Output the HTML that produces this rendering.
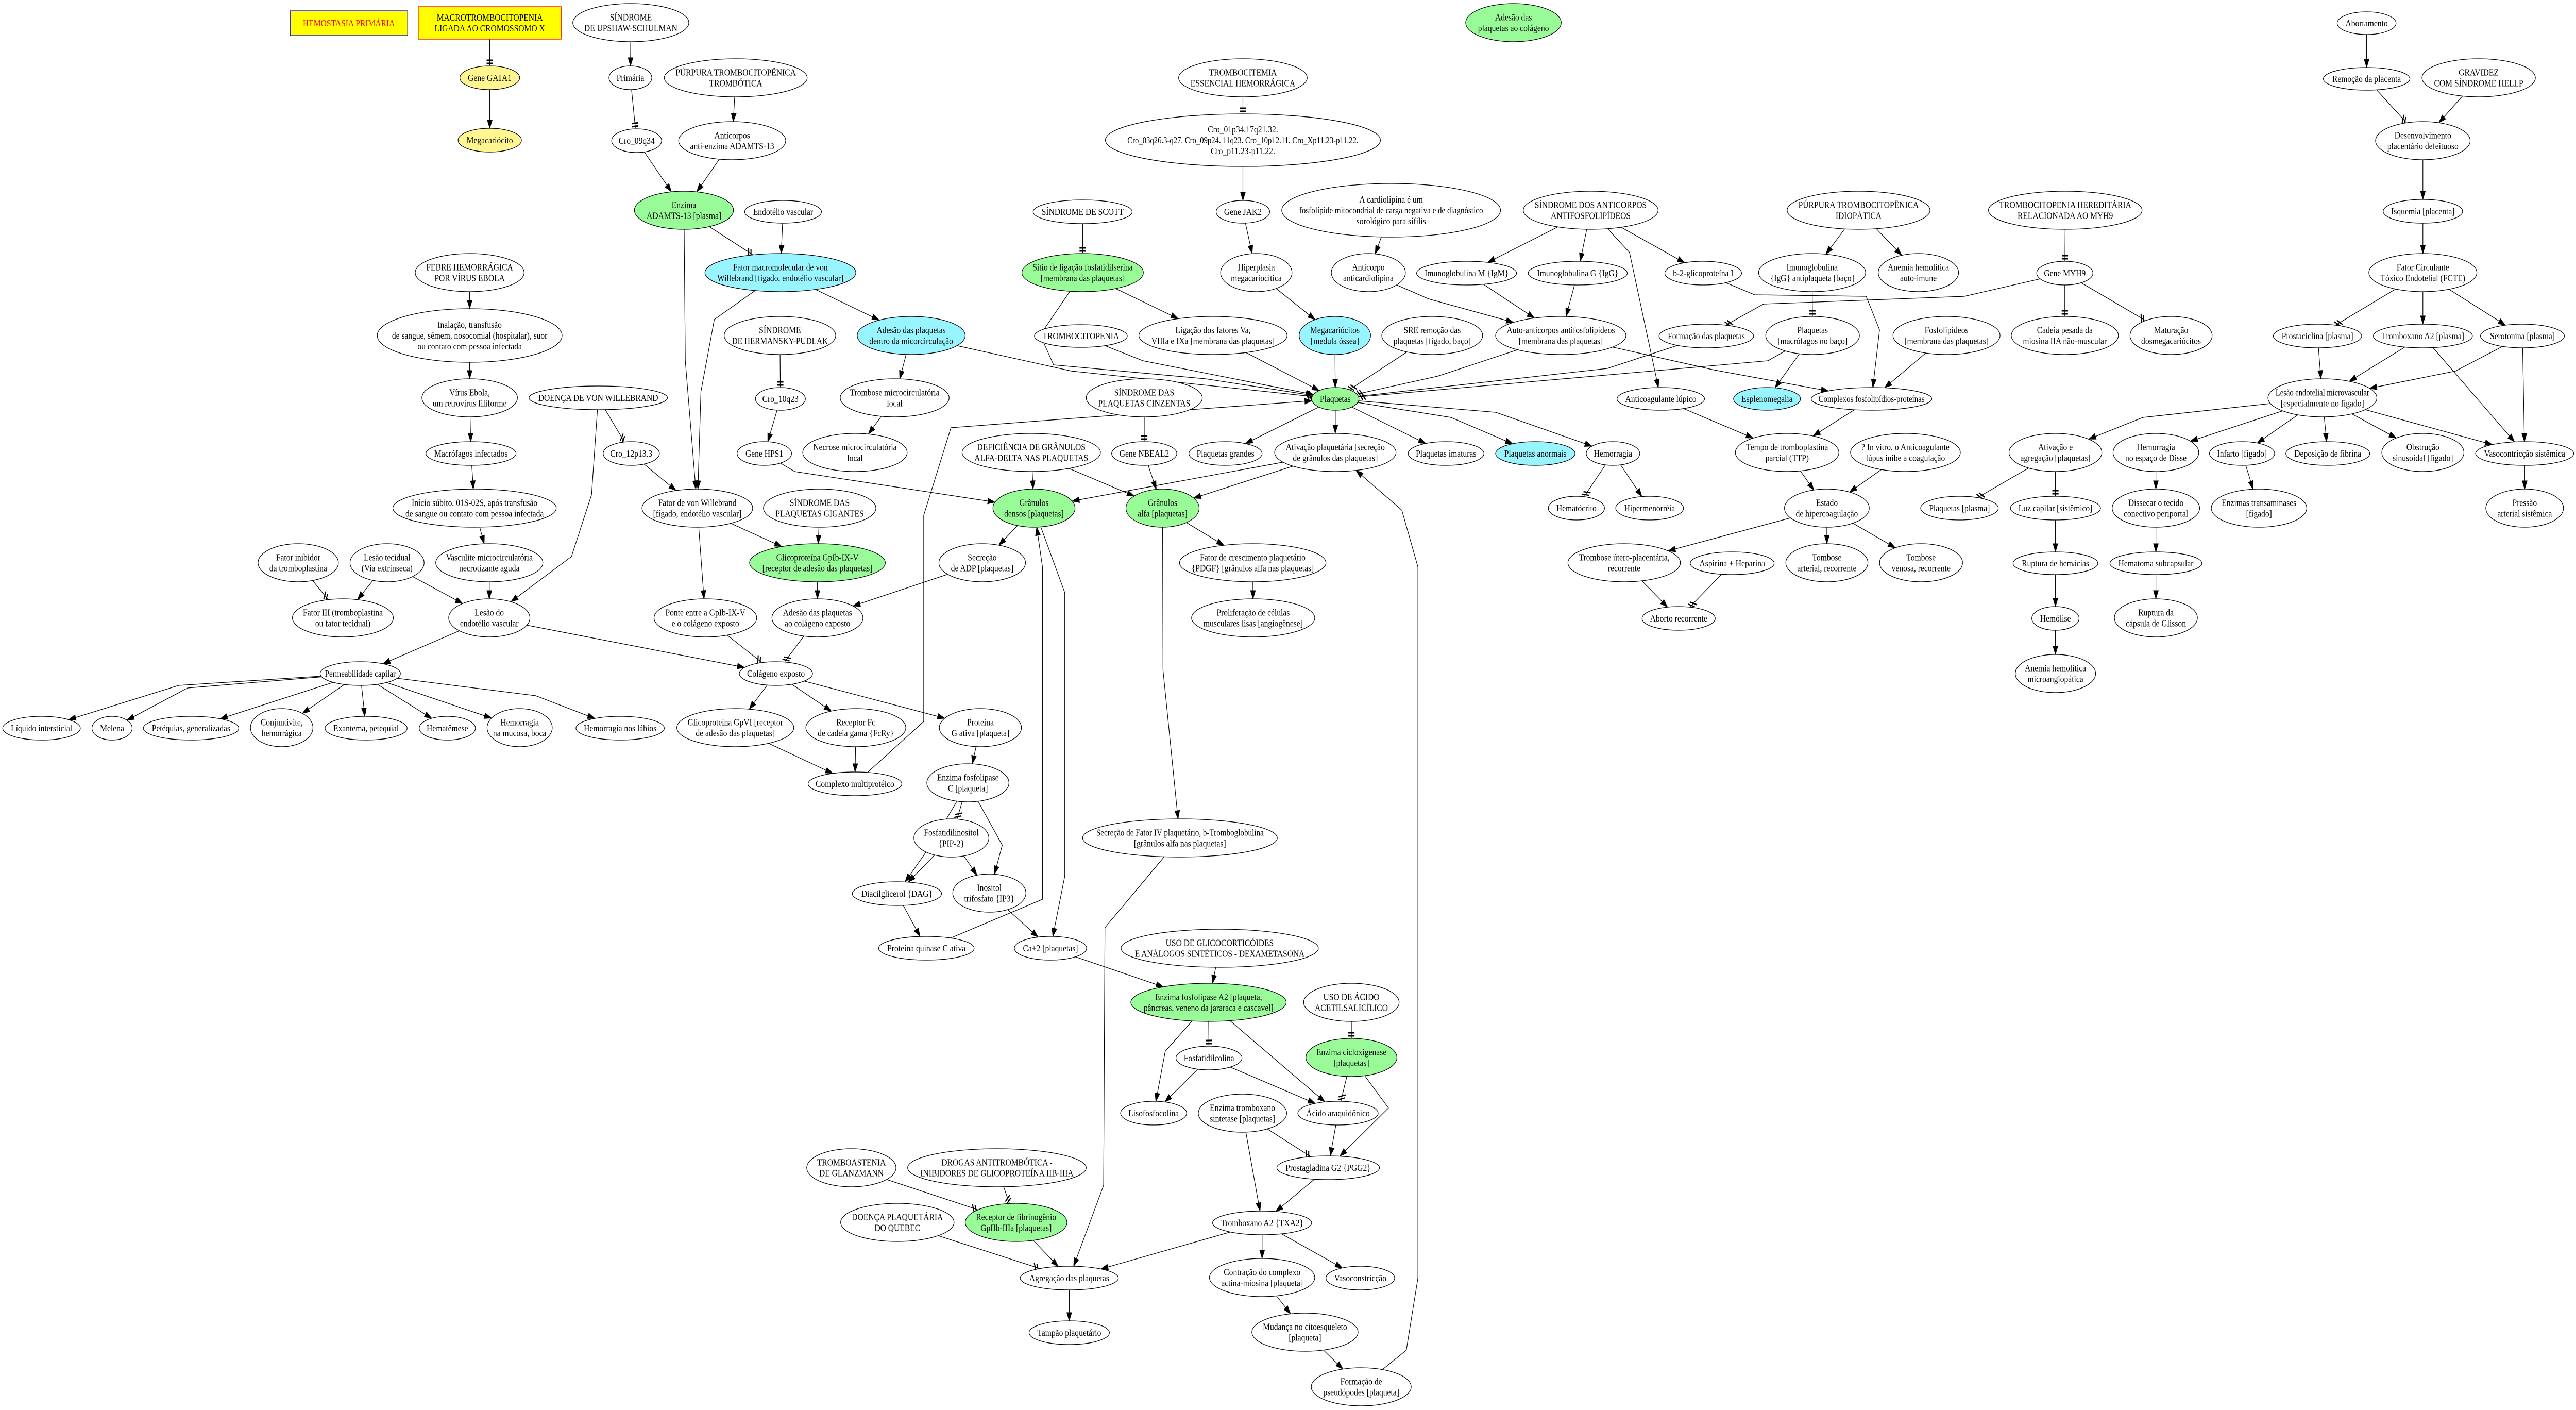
<!DOCTYPE html>
<html><head><meta charset="utf-8">
<style>
html,body{margin:0;padding:0;background:#fff;overflow:hidden;width:100%;height:100%;}
svg{display:block;width:100vw;height:100vh;}
ellipse,rect{fill:#fff;stroke:#000;stroke-width:1.3;}
.g ellipse{fill:#98fb98;}
.c ellipse{fill:#98f5ff;}
.y ellipse{fill:#fff68f;}
text{font-family:"Liberation Serif","DejaVu Serif",serif;font-size:18px;text-anchor:middle;fill:#000;}
.e{fill:none;stroke:#000;stroke-width:1.3;}
.m{fill:#000;stroke:#000;stroke-width:1;}
.t{stroke:#000;stroke-width:3;fill:none;}
.sl{stroke:#000;stroke-width:2.4;fill:none;}
</style></head><body>
<svg id="s" xmlns="http://www.w3.org/2000/svg" viewBox="0 0 5770 2736" preserveAspectRatio="none">
<rect x="0" y="0" width="5770" height="2736" style="fill:#fff;stroke:none"/>
<g id="edges"></g>
<g class="n" id="b1"><rect x="650" y="21" width="263" height="48" style="fill:#ffff00;stroke:#0000ff"/><text style="fill:#ff0000">HEMOSTASIA PRIMÁRIA</text></g>
<g class="n" id="b2"><rect x="937" y="13" width="320" height="63" style="fill:#ffff00;stroke:#ff0000"/><text>MACROTROMBOCITOPENIA</text><text>LIGADA AO CROMOSSOMO X</text></g>
<g class="n" id="ups"><ellipse cx="1413" cy="44" rx="130" ry="37"/><text>SÍNDROME</text><text>DE UPSHAW-SCHULMAN</text></g>
<g class="n y" id="gata"><ellipse cx="1097" cy="151" rx="67" ry="23"/><text>Gene GATA1</text></g>
<g class="n y" id="mega"><ellipse cx="1097" cy="272" rx="71" ry="23"/><text>Megacariócito</text></g>
<g class="n" id="prim"><ellipse cx="1412" cy="151" rx="48" ry="23"/><text>Primária</text></g>
<g class="n" id="c09"><ellipse cx="1426" cy="273" rx="56" ry="23"/><text>Cro_09q34</text></g>
<g class="n" id="febre"><ellipse cx="1052" cy="529" rx="122" ry="37"/><text>FEBRE HEMORRÁGICA</text><text>POR VÍRUS EBOLA</text></g>
<g class="n" id="inal"><ellipse cx="1052" cy="651" rx="207" ry="52"/><text>Inalação, transfusão</text><text>de sangue, sêmem, nosocomial (hospitalar), suor</text><text>ou contato com pessoa infectada</text></g>
<g class="n" id="virus"><ellipse cx="1052" cy="772" rx="107" ry="37"/><text>Vírus Ebola,</text><text>um retrovírus filiforme</text></g>
<g class="n" id="dvw"><ellipse cx="1340" cy="772" rx="155" ry="23"/><text>DOENÇA DE VON WILLEBRAND</text></g>
<g class="n" id="macr"><ellipse cx="1055" cy="880" rx="101" ry="23"/><text>Macrófagos infectados</text></g>
<g class="n" id="c12"><ellipse cx="1414" cy="880" rx="63" ry="23"/><text>Cro_12p13.3</text></g>
<g class="n" id="ptt"><ellipse cx="1648" cy="151" rx="160" ry="37"/><text>PÚRPURA TROMBOCITOPÊNICA</text><text>TROMBÓTICA</text></g>
<g class="n" id="antiad"><ellipse cx="1640" cy="273" rx="120" ry="37"/><text>Anticorpos</text><text>anti-enzima ADAMTS-13</text></g>
<g class="n g" id="adam"><ellipse cx="1532" cy="408" rx="111" ry="37"/><text>Enzima</text><text>ADAMTS-13 [plasma]</text></g>
<g class="n" id="endo"><ellipse cx="1754" cy="411" rx="86" ry="22"/><text>Endotélio vascular</text></g>
<g class="n" id="tce"><ellipse cx="2784" cy="151" rx="144" ry="37"/><text>TROMBOCITEMIA</text><text>ESSENCIAL HEMORRÁGICA</text></g>
<g class="n" id="cro01"><ellipse cx="2784" cy="272" rx="308" ry="51"/><text>Cro_01p34.17q21.32.</text><text>Cro_03q26.3-q27. Cro_09p24. 11q23. Cro_10p12.11. Cro_Xp11.23-p11.22.</text><text>Cro_p11.23-p11.22.</text></g>
<g class="n" id="jak"><ellipse cx="2784" cy="411" rx="60" ry="22"/><text>Gene JAK2</text></g>
<g class="n" id="scott"><ellipse cx="2425" cy="411" rx="111" ry="23"/><text>SÍNDROME DE SCOTT</text></g>
<g class="n g" id="sitio"><ellipse cx="2425" cy="529" rx="136" ry="37"/><text>Sítio de ligação fosfatidilserina</text><text>[membrana das plaquetas]</text></g>
<g class="n" id="hiper"><ellipse cx="2814" cy="529" rx="80" ry="37"/><text>Hiperplasia</text><text>megacariocítica</text></g>
<g class="n c" id="fmvw"><ellipse cx="1748" cy="529" rx="169" ry="37"/><text>Fator macromolecular de von</text><text>Willebrand [fígado, endotélio vascular]</text></g>
<g class="n" id="herm"><ellipse cx="1747" cy="651" rx="125" ry="37"/><text>SÍNDROME</text><text>DE HERMANSKY-PUDLAK</text></g>
<g class="n c" id="admic"><ellipse cx="2041" cy="651" rx="121" ry="37"/><text>Adesão das plaquetas</text><text>dentro da micorcirculação</text></g>
<g class="n" id="trombp"><ellipse cx="2421" cy="652" rx="104" ry="22"/><text>TROMBOCITOPENIA</text></g>
<g class="n" id="lig"><ellipse cx="2717" cy="651" rx="166" ry="37"/><text>Ligação dos fatores Va,</text><text>VIIIa e IXa [membrana das plaquetas]</text></g>
<g class="n" id="c10"><ellipse cx="1748" cy="774" rx="56" ry="22"/><text>Cro_10q23</text></g>
<g class="n" id="trmic"><ellipse cx="2004" cy="772" rx="122" ry="37"/><text>Trombose microcirculatória</text><text>local</text></g>
<g class="n" id="cinz"><ellipse cx="2563" cy="772" rx="130" ry="37"/><text>SÍNDROME DAS</text><text>PLAQUETAS CINZENTAS</text></g>
<g class="n" id="hps"><ellipse cx="1712" cy="880" rx="61" ry="23"/><text>Gene HPS1</text></g>
<g class="n" id="necr"><ellipse cx="1915" cy="878" rx="117" ry="37"/><text>Necrose microcirculatória</text><text>local</text></g>
<g class="n" id="defi"><ellipse cx="2310" cy="878" rx="155" ry="37"/><text>DEFICIÊNCIA DE GRÂNULOS</text><text>ALFA-DELTA NAS PLAQUETAS</text></g>
<g class="n" id="nbe"><ellipse cx="2563" cy="880" rx="73" ry="23"/><text>Gene NBEAL2</text></g>
<g class="n" id="pgr"><ellipse cx="2745" cy="880" rx="82" ry="23"/><text>Plaquetas grandes</text></g>
<g class="n g" id="adcol"><ellipse cx="3390" cy="44" rx="107" ry="37"/><text>Adesão das</text><text>plaquetas ao colágeno</text></g>
<g class="n" id="card"><ellipse cx="3116" cy="408" rx="245" ry="52"/><text>A cardiolipina é um</text><text>fosfolípide mitocondrial de carga negativa e de diagnóstico</text><text>sorológico para sífilis</text></g>
<g class="n" id="saaf"><ellipse cx="3563" cy="408" rx="151" ry="37"/><text>SÍNDROME DOS ANTICORPOS</text><text>ANTIFOSFOLIPÍDEOS</text></g>
<g class="n" id="pti"><ellipse cx="4163" cy="408" rx="160" ry="37"/><text>PÚRPURA TROMBOCITOPÊNICA</text><text>IDIOPÁTICA</text></g>
<g class="n" id="acard"><ellipse cx="3065" cy="529" rx="83" ry="37"/><text>Anticorpo</text><text>anticardiolipina</text></g>
<g class="n" id="igm"><ellipse cx="3285" cy="530" rx="112" ry="23"/><text>Imunoglobulina M {IgM}</text></g>
<g class="n" id="igg"><ellipse cx="3534" cy="530" rx="111" ry="23"/><text>Imunoglobulina G {IgG}</text></g>
<g class="n" id="b2g"><ellipse cx="3815" cy="530" rx="86" ry="23"/><text>b-2-glicoproteína I</text></g>
<g class="n" id="igap"><ellipse cx="4059" cy="529" rx="120" ry="37"/><text>Imunoglobulina</text><text>{IgG} antiplaqueta [baço]</text></g>
<g class="n" id="anai"><ellipse cx="4297" cy="529" rx="90" ry="37"/><text>Anemia hemolítica</text><text>auto-imune</text></g>
<g class="n c" id="megm"><ellipse cx="2990" cy="651" rx="80" ry="37"/><text>Megacariócitos</text><text>[medula óssea]</text></g>
<g class="n" id="sre"><ellipse cx="3208" cy="651" rx="113" ry="37"/><text>SRE remoção das</text><text>plaquetas [fígado, baço]</text></g>
<g class="n" id="auto"><ellipse cx="3496" cy="651" rx="146" ry="37"/><text>Auto-anticorpos antifosfolipídeos</text><text>[membrana das plaquetas]</text></g>
<g class="n" id="form"><ellipse cx="3822" cy="652" rx="106" ry="23"/><text>Formação das plaquetas</text></g>
<g class="n" id="pmac"><ellipse cx="4060" cy="651" rx="105" ry="37"/><text>Plaquetas</text><text>[macrófagos no baço]</text></g>
<g class="n" id="fosf"><ellipse cx="4360" cy="651" rx="120" ry="37"/><text>Fosfolipídeos</text><text>[membrana das plaquetas]</text></g>
<g class="n g" id="plaq"><ellipse cx="2991" cy="774" rx="53" ry="22"/><text>Plaquetas</text></g>
<g class="n" id="alup"><ellipse cx="3720" cy="774" rx="98" ry="22"/><text>Anticoagulante lúpico</text></g>
<g class="n c" id="espl"><ellipse cx="3958" cy="774" rx="75" ry="22"/><text>Esplenomegalia</text></g>
<g class="n" id="comp"><ellipse cx="4192" cy="774" rx="135" ry="22"/><text>Complexos fosfolipídios-proteínas</text></g>
<g class="n" id="ativ"><ellipse cx="2991" cy="878" rx="136" ry="37"/><text>Ativação plaquetária [secreção</text><text>de grânulos das plaquetas]</text></g>
<g class="n" id="pimat"><ellipse cx="3239" cy="880" rx="85" ry="23"/><text>Plaquetas imaturas</text></g>
<g class="n c" id="panor"><ellipse cx="3439" cy="880" rx="89" ry="23"/><text>Plaquetas anormais</text></g>
<g class="n" id="hem"><ellipse cx="3613" cy="880" rx="60" ry="23"/><text>Hemorragia</text></g>
<g class="n" id="ttp"><ellipse cx="4003" cy="878" rx="116" ry="37"/><text>Tempo de tromboplastina</text><text>parcial (TTP)</text></g>
<g class="n" id="invit"><ellipse cx="4268" cy="878" rx="123" ry="37"/><text>? In vitro, o Anticoagulante</text><text>lúpus inibe a coagulação</text></g>
<g class="n" id="abort"><ellipse cx="5301" cy="45" rx="66" ry="22"/><text>Abortamento</text></g>
<g class="n" id="remo"><ellipse cx="5301" cy="153" rx="97" ry="22"/><text>Remoção da placenta</text></g>
<g class="n" id="grav"><ellipse cx="5552" cy="151" rx="127" ry="37"/><text>GRAVIDEZ</text><text>COM SÍNDROME HELLP</text></g>
<g class="n" id="desen"><ellipse cx="5427" cy="273" rx="106" ry="37"/><text>Desenvolvimento</text><text>placentário defeituoso</text></g>
<g class="n" id="isq"><ellipse cx="5427" cy="410" rx="89" ry="23"/><text>Isquemia [placenta]</text></g>
<g class="n" id="thmyh"><ellipse cx="4626" cy="408" rx="172" ry="37"/><text>TROMBOCITOPENIA HEREDITÁRIA</text><text>RELACIONADA AO MYH9</text></g>
<g class="n" id="fcte"><ellipse cx="5427" cy="529" rx="121" ry="37"/><text>Fator Circulante</text><text>Tóxico Endotelial (FCTE)</text></g>
<g class="n" id="myh9"><ellipse cx="4625" cy="530" rx="63" ry="23"/><text>Gene MYH9</text></g>
<g class="n" id="cad"><ellipse cx="4625" cy="651" rx="120" ry="37"/><text>Cadeia pesada da</text><text>miosina IIA não-muscular</text></g>
<g class="n" id="mat"><ellipse cx="4863" cy="651" rx="92" ry="37"/><text>Maturação</text><text>dosmegacariócitos</text></g>
<g class="n" id="prost"><ellipse cx="5191" cy="652" rx="99" ry="23"/><text>Prostaciclina [plasma]</text></g>
<g class="n" id="txp"><ellipse cx="5427" cy="652" rx="111" ry="23"/><text>Tromboxano A2 [plasma]</text></g>
<g class="n" id="sero"><ellipse cx="5650" cy="652" rx="94" ry="23"/><text>Serotonina [plasma]</text></g>
<g class="n" id="lesm"><ellipse cx="5202" cy="772" rx="122" ry="37"/><text>Lesão endotelial microvascular</text><text>[especialmente no fígado]</text></g>
<g class="n" id="atag"><ellipse cx="4604" cy="878" rx="104" ry="37"/><text>Ativação e</text><text>agregação [plaquetas]</text></g>
<g class="n" id="hdis"><ellipse cx="4829" cy="878" rx="96" ry="37"/><text>Hemorragia</text><text>no espaço de Disse</text></g>
<g class="n" id="inf"><ellipse cx="5022" cy="880" rx="73" ry="23"/><text>Infarto [fígado]</text></g>
<g class="n" id="dep"><ellipse cx="5214" cy="880" rx="94" ry="23"/><text>Deposição de fibrina</text></g>
<g class="n" id="obs"><ellipse cx="5427" cy="878" rx="92" ry="37"/><text>Obstrução</text><text>sinusoidal [fígado]</text></g>
<g class="n" id="vasos"><ellipse cx="5655" cy="880" rx="110" ry="23"/><text>Vasocontricção sistêmica</text></g>
<g class="n" id="inic"><ellipse cx="1063" cy="986" rx="183" ry="37"/><text>Início súbito, 01S-02S, após transfusão</text><text>de sangue ou contato com pessoa infectada</text></g>
<g class="n" id="finib"><ellipse cx="668" cy="1092" rx="90" ry="37"/><text>Fator inibidor</text><text>da tromboplastina</text></g>
<g class="n" id="lestec"><ellipse cx="867" cy="1092" rx="83" ry="37"/><text>Lesão tecidual</text><text>(Via extrínseca)</text></g>
<g class="n" id="vasc"><ellipse cx="1096" cy="1092" rx="120" ry="37"/><text>Vasculite microcirculatória</text><text>necrotizante aguda</text></g>
<g class="n" id="f3"><ellipse cx="768" cy="1199" rx="113" ry="37"/><text>Fator III (tromboplastina</text><text>ou fator tecidual)</text></g>
<g class="n" id="lesend"><ellipse cx="1096" cy="1199" rx="91" ry="37"/><text>Lesão do</text><text>endotélio vascular</text></g>
<g class="n" id="perm"><ellipse cx="807" cy="1307" rx="90" ry="23"/><text>Permeabilidade capilar</text></g>
<g class="n" id="liq"><ellipse cx="93" cy="1413" rx="87" ry="23"/><text>Líquido intersticial</text></g>
<g class="n" id="mel"><ellipse cx="251" cy="1413" rx="45" ry="23"/><text>Melena</text></g>
<g class="n" id="pet"><ellipse cx="428" cy="1413" rx="107" ry="23"/><text>Petéquias, generalizadas</text></g>
<g class="n" id="conj"><ellipse cx="631" cy="1412" rx="70" ry="37"/><text>Conjuntivite,</text><text>hemorrágica</text></g>
<g class="n" id="exan"><ellipse cx="820" cy="1413" rx="92" ry="23"/><text>Exantema, petequial</text></g>
<g class="n" id="hemat"><ellipse cx="1002" cy="1413" rx="63" ry="23"/><text>Hematêmese</text></g>
<g class="n" id="hmuc"><ellipse cx="1164" cy="1412" rx="73" ry="37"/><text>Hemorragia</text><text>na mucosa, boca</text></g>
<g class="n" id="hlab"><ellipse cx="1389" cy="1413" rx="99" ry="23"/><text>Hemorragia nos lábios</text></g>
<g class="n" id="fvw"><ellipse cx="1562" cy="986" rx="124" ry="37"/><text>Fator de von Willebrand</text><text>[fígado, endotélio vascular]</text></g>
<g class="n" id="gig"><ellipse cx="1836" cy="986" rx="126" ry="37"/><text>SÍNDROME DAS</text><text>PLAQUETAS GIGANTES</text></g>
<g class="n g" id="gden"><ellipse cx="2316" cy="986" rx="92" ry="37"/><text>Grânulos</text><text>densos [plaquetas]</text></g>
<g class="n g" id="galf"><ellipse cx="2604" cy="986" rx="82" ry="37"/><text>Grânulos</text><text>alfa [plaquetas]</text></g>
<g class="n g" id="gpib"><ellipse cx="1831" cy="1092" rx="152" ry="37"/><text>Glicoproteína GpIb-IX-V</text><text>[receptor de adesão das plaquetas]</text></g>
<g class="n" id="adp"><ellipse cx="2200" cy="1092" rx="97" ry="37"/><text>Secreção</text><text>de ADP [plaquetas]</text></g>
<g class="n" id="pdgf"><ellipse cx="2806" cy="1092" rx="164" ry="37"/><text>Fator de crescimento plaquetário</text><text>{PDGF} [grânulos alfa nas plaquetas]</text></g>
<g class="n" id="ponte"><ellipse cx="1580" cy="1199" rx="115" ry="37"/><text>Ponte entre a GpIb-IX-V</text><text>e o colágeno exposto</text></g>
<g class="n" id="adce"><ellipse cx="1831" cy="1199" rx="102" ry="37"/><text>Adesão das plaquetas</text><text>ao colágeno exposto</text></g>
<g class="n" id="prol"><ellipse cx="2807" cy="1199" rx="138" ry="37"/><text>Proliferação de células</text><text>musculares lisas [angiogênese]</text></g>
<g class="n" id="col"><ellipse cx="1738" cy="1307" rx="82" ry="23"/><text>Colágeno exposto</text></g>
<g class="n" id="gpvi"><ellipse cx="1647" cy="1412" rx="131" ry="37"/><text>Glicoproteína GpVI [receptor</text><text>de adesão das plaquetas]</text></g>
<g class="n" id="fc"><ellipse cx="1917" cy="1412" rx="112" ry="37"/><text>Receptor Fc</text><text>de cadeia gama {FcRy}</text></g>
<g class="n" id="protg"><ellipse cx="2196" cy="1412" rx="92" ry="37"/><text>Proteína</text><text>G ativa [plaqueta]</text></g>
<g class="n" id="cmul"><ellipse cx="1915" cy="1521" rx="105" ry="23"/><text>Complexo multiprotéico</text></g>
<g class="n" id="plc"><ellipse cx="2168" cy="1519" rx="92" ry="37"/><text>Enzima fosfolipase</text><text>C [plaqueta]</text></g>
<g class="n" id="pip"><ellipse cx="2131" cy="1626" rx="84" ry="37"/><text>Fosfatidilinositol</text><text>{PIP-2}</text></g>
<g class="n" id="fiv"><ellipse cx="2643" cy="1626" rx="218" ry="37"/><text>Secreção de Fator IV plaquetário, b-Tromboglobulina</text><text>[grânulos alfa nas plaquetas]</text></g>
<g class="n" id="dag"><ellipse cx="2009" cy="1734" rx="100" ry="23"/><text>Diacilglicerol {DAG}</text></g>
<g class="n" id="ip3"><ellipse cx="2216" cy="1733" rx="82" ry="37"/><text>Inositol</text><text>trifosfato {IP3}</text></g>
<g class="n" id="hcto"><ellipse cx="3531" cy="986" rx="63" ry="23"/><text>Hematócrito</text></g>
<g class="n" id="hiperm"><ellipse cx="3695" cy="986" rx="76" ry="23"/><text>Hipermenorréia</text></g>
<g class="n" id="estado"><ellipse cx="4092" cy="986" rx="95" ry="37"/><text>Estado</text><text>de hipercoagulação</text></g>
<g class="n" id="pplas"><ellipse cx="4389" cy="986" rx="87" ry="23"/><text>Plaquetas [plasma]</text></g>
<g class="n" id="utero"><ellipse cx="3638" cy="1092" rx="126" ry="37"/><text>Trombose útero-placentária,</text><text>recorrente</text></g>
<g class="n" id="asp"><ellipse cx="3880" cy="1093" rx="94" ry="22"/><text>Aspirina + Heparina</text></g>
<g class="n" id="tart"><ellipse cx="4092" cy="1092" rx="92" ry="37"/><text>Tombose</text><text>arterial, recorrente</text></g>
<g class="n" id="tven"><ellipse cx="4303" cy="1092" rx="93" ry="37"/><text>Tombose</text><text>venosa, recorrente</text></g>
<g class="n" id="abrec"><ellipse cx="3760" cy="1200" rx="82" ry="23"/><text>Aborto recorrente</text></g>
<g class="n" id="luz"><ellipse cx="4604" cy="986" rx="101" ry="23"/><text>Luz capilar [sistêmico]</text></g>
<g class="n" id="diss"><ellipse cx="4829" cy="986" rx="98" ry="37"/><text>Dissecar o tecido</text><text>conectivo periportal</text></g>
<g class="n" id="enz"><ellipse cx="5060" cy="986" rx="107" ry="37"/><text>Enzimas transaminases</text><text>[fígado]</text></g>
<g class="n" id="press"><ellipse cx="5655" cy="986" rx="87" ry="37"/><text>Pressão</text><text>arterial sistêmica</text></g>
<g class="n" id="rupt"><ellipse cx="4604" cy="1093" rx="95" ry="22"/><text>Ruptura de hemácias</text></g>
<g class="n" id="hemt"><ellipse cx="4829" cy="1093" rx="103" ry="22"/><text>Hematoma subcapsular</text></g>
<g class="n" id="hemol"><ellipse cx="4604" cy="1200" rx="53" ry="23"/><text>Hemólise</text></g>
<g class="n" id="glis"><ellipse cx="4829" cy="1199" rx="93" ry="37"/><text>Ruptura da</text><text>cápsula de Glisson</text></g>
<g class="n" id="anmic"><ellipse cx="4604" cy="1307" rx="90" ry="37"/><text>Anemia hemolítica</text><text>microangiopática</text></g>
<g class="n" id="pkc"><ellipse cx="2075" cy="1840" rx="107" ry="23"/><text>Proteína quinase C ativa</text></g>
<g class="n" id="ca"><ellipse cx="2353" cy="1840" rx="81" ry="23"/><text>Ca+2 [plaquetas]</text></g>
<g class="n" id="glico"><ellipse cx="2732" cy="1840" rx="221" ry="37"/><text>USO DE GLICOCORTICÓIDES</text><text>E ANÁLOGOS SINTÉTICOS - DEXAMETASONA</text></g>
<g class="n g" id="pla2"><ellipse cx="2707" cy="1945" rx="174" ry="37"/><text>Enzima fosfolipase A2 [plaqueta,</text><text>pâncreas, veneno da jararaca e cascavel]</text></g>
<g class="n" id="aas"><ellipse cx="3027" cy="1945" rx="107" ry="37"/><text>USO DE ÁCIDO</text><text>ACETILSALICÍLICO</text></g>
<g class="n" id="fcol"><ellipse cx="2708" cy="2053" rx="74" ry="23"/><text>Fosfatidilcolina</text></g>
<g class="n g" id="cox"><ellipse cx="3027" cy="2052" rx="102" ry="37"/><text>Enzima cicloxigenase</text><text>[plaquetas]</text></g>
<g class="n" id="liso"><ellipse cx="2584" cy="2160" rx="74" ry="23"/><text>Lisofosfocolina</text></g>
<g class="n" id="txs"><ellipse cx="2783" cy="2160" rx="99" ry="37"/><text>Enzima tromboxano</text><text>sintetase [plaquetas]</text></g>
<g class="n" id="aa"><ellipse cx="2997" cy="2160" rx="90" ry="23"/><text>Ácido araquidônico</text></g>
<g class="n" id="glanz"><ellipse cx="1907" cy="2266" rx="100" ry="37"/><text>TROMBOASTENIA</text><text>DE GLANZMANN</text></g>
<g class="n" id="drog"><ellipse cx="2233" cy="2266" rx="200" ry="37"/><text>DROGAS ANTITROMBÓTICA -</text><text>INIBIDORES DE GLICOPROTEÍNA IIB-IIIA</text></g>
<g class="n" id="pgg"><ellipse cx="2975" cy="2266" rx="115" ry="23"/><text>Prostagladina G2 {PGG2}</text></g>
<g class="n" id="queb"><ellipse cx="2010" cy="2372" rx="127" ry="37"/><text>DOENÇA PLAQUETÁRIA</text><text>DO QUEBEC</text></g>
<g class="n g" id="rfib"><ellipse cx="2276" cy="2372" rx="114" ry="37"/><text>Receptor de fibrinogênio</text><text>GpIIb-IIIa [plaquetas]</text></g>
<g class="n" id="txa2"><ellipse cx="2827" cy="2373" rx="111" ry="23"/><text>Tromboxano A2 {TXA2}</text></g>
<g class="n" id="agr"><ellipse cx="2395" cy="2480" rx="110" ry="23"/><text>Agregação das plaquetas</text></g>
<g class="n" id="contr"><ellipse cx="2827" cy="2479" rx="118" ry="37"/><text>Contração do complexo</text><text>actina-miosina [plaqueta]</text></g>
<g class="n" id="vcon"><ellipse cx="3047" cy="2480" rx="77" ry="23"/><text>Vasoconstricção</text></g>
<g class="n" id="tamp"><ellipse cx="2395" cy="2586" rx="90" ry="23"/><text>Tampão plaquetário</text></g>
<g class="n" id="mud"><ellipse cx="2923" cy="2585" rx="119" ry="37"/><text>Mudança no citoesqueleto</text><text>[plaqueta]</text></g>
<g class="n" id="pseu"><ellipse cx="3049" cy="2691" rx="112" ry="37"/><text>Formação de</text><text>pseudópodes [plaqueta]</text></g>
</svg>
<script>
(function(){
var NS="http://www.w3.org/2000/svg";
var S=document.getElementById('s');
var N={};
var gs=S.querySelectorAll('g.n');
for(var k=0;k<gs.length;k++){
 var g=gs[k];var e=g.querySelector('ellipse,rect');var o={};
 if(e.tagName.toLowerCase()==='rect'){var x=+e.getAttribute('x'),y=+e.getAttribute('y'),w=+e.getAttribute('width'),h=+e.getAttribute('height');o={cx:x+w/2,cy:y+h/2,rx:w/2,ry:h/2,rect:true};}
 else{o={cx:+e.getAttribute('cx'),cy:+e.getAttribute('cy'),rx:+e.getAttribute('rx'),ry:+e.getAttribute('ry'),rect:false};}
 N[g.id]=o;
 var ts=g.querySelectorAll('text');var n=ts.length;
 for(var i=0;i<n;i++){var t=ts[i];t.setAttribute('x',o.cx);t.setAttribute('y',o.cy+6+(i-(n-1)/2)*21);
  var L=t.getComputedTextLength();var mx=2*o.rx*(o.rect?0.94:(n==1?0.88:(n==2?0.86:0.84)));
  if(L>mx){t.setAttribute('textLength',mx);t.setAttribute('lengthAdjust','spacingAndGlyphs');}}
}
function bp(o,tx,ty){var dx=tx-o.cx,dy=ty-o.cy;if(dx==0&&dy==0)dy=1;var t;
 if(o.rect){t=Math.min(dx?o.rx/Math.abs(dx):1e9,dy?o.ry/Math.abs(dy):1e9);}else{t=1/Math.sqrt((dx/o.rx)*(dx/o.rx)+(dy/o.ry)*(dy/o.ry));}
 return [o.cx+dx*t,o.cy+dy*t];}
var E=document.getElementById('edges');
function el(tag,attrs){var x=document.createElementNS(NS,tag);for(var a in attrs)x.setAttribute(a,attrs[a]);E.appendChild(x);return x;}
function edge(f,t,m,w){var A=N[f],B=N[t];if(!A||!B)return;w=w||[];
 var first=w.length?w[0]:[B.cx,B.cy];var last=w.length?w[w.length-1]:[A.cx,A.cy];
 var s=bp(A,first[0],first[1]);var en=bp(B,last[0],last[1]);
 var pv=w.length?w[w.length-1]:s;var ux=en[0]-pv[0],uy=en[1]-pv[1];var l=Math.sqrt(ux*ux+uy*uy)||1;ux/=l;uy/=l;var nx=-uy,ny=ux;
 var cut=(m==='a')?16:1;var ee=[en[0]-ux*cut,en[1]-uy*cut];
 var d='M'+s[0].toFixed(1)+','+s[1].toFixed(1);
 for(var i=0;i<w.length;i++)d+=' L'+w[i][0]+','+w[i][1];
 d+=' L'+ee[0].toFixed(1)+','+ee[1].toFixed(1);
 el('path',{d:d,'class':'e'});
 if(m==='a'){var bx=en[0]-ux*16,by=en[1]-uy*16;
  el('polygon',{points:en[0]+','+en[1]+' '+(bx+nx*5.5)+','+(by+ny*5.5)+' '+(bx-nx*5.5)+','+(by-ny*5.5),'class':'m'});}
 else if(m==='b'){[5,11].forEach(function(k){var px=en[0]-ux*k,py=en[1]-uy*k;el('line',{x1:px+nx*7,y1:py+ny*7,x2:px-nx*7,y2:py-ny*7,'class':'t'});});}
 else if(m==='s'){[5,11].forEach(function(k){var px=en[0]-ux*k,py=en[1]-uy*k;el('line',{x1:px+nx*7+ux*4,y1:py+ny*7+uy*4,x2:px-nx*7-ux*4,y2:py-ny*7-uy*4,'class':'sl'});});}
}
var L=[
['b2','gata','b'],['gata','mega','a'],['ups','prim','a'],['prim','c09','b'],['c09','adam','a'],['ptt','antiad','a'],['antiad','adam','a'],
['adam','fmvw','s'],['endo','fmvw','a'],['adam','fvw','a',[[1535,700]]],['fmvw','fvw','a',[[1600,620],[1570,760]]],['fmvw','admic','a'],['admic','trmic','a'],['trmic','necr','a'],
['admic','plaq','s',[[2400,720]]],['herm','c10','b'],['c10','hps','a'],['hps','gden','a',[[1780,915]]],['scott','sitio','b'],['sitio','lig','a'],
['sitio','plaq','s',[[2330,650],[2360,708],[2700,735]]],['trombp','plaq','a',[[2560,700]]],['lig','plaq','a'],['tce','cro01','b'],['cro01','jak','a'],['jak','hiper','a'],['hiper','megm','a'],
['megm','plaq','a'],['sre','plaq','s'],['card','acard','a'],['saaf','igm','a'],['saaf','igg','a'],['saaf','b2g','a'],['saaf','alup','a',[[3650,490]]],
['igm','auto','a'],['igg','auto','a'],['acard','auto','a',[[3200,580]]],['auto','plaq','s',[[3220,730]]],['auto','comp','a',[[3840,718]]],['b2g','comp','a',[[3930,572],[4180,575],[4210,640]]],
['pti','igap','a'],['pti','anai','a'],['igap','pmac','b'],['pmac','espl','a'],['pmac','plaq','s',[[3960,700],[3700,720]]],['thmyh','myh9','b'],
['myh9','form','s',[[4400,575],[3950,590]]],['form','plaq','s',[[3600,715]]],['myh9','cad','b'],['myh9','mat','s'],['fosf','comp','a'],['alup','ttp','a'],['comp','ttp','a'],
['ttp','estado','a'],['invit','estado','a'],['estado','utero','a'],['estado','tart','a'],['estado','tven','a'],['utero','abrec','a'],['asp','abrec','s'],
['hem','hcto','s'],['hem','hiperm','a'],['plaq','ativ','a'],['plaq','pimat','a'],['plaq','panor','a',[[3250,810]]],['plaq','hem','a',[[3350,800]]],['plaq','pgr','a'],
['ativ','gden','a'],['ativ','galf','a'],['cinz','nbe','b'],['nbe','galf','a'],['defi','gden','a'],['defi','galf','a'],['gden','adp','a'],
['gden','ca','a',[[2385,1150],[2385,1700]]],['galf','pdgf','a'],['pdgf','prol','a'],['galf','fiv','a',[[2605,1300]]],['fiv','agr','a',[[2475,1800],[2472,2300]]],
['fvw','gpib','a'],['fvw','ponte','a'],['gig','gpib','a'],['gpib','adce','a'],['adp','adce','a'],['ponte','col','s'],['adce','col','s'],['lesend','col','a'],
['col','gpvi','a'],['col','fc','a'],['col','protg','a'],['gpvi','cmul','a'],['fc','cmul','a'],['cmul','plaq','a',[[2069,1400],[2069,1000],[2130,830],[2400,812],[2900,780]]],
['protg','plc','a'],['plc','pip','s'],['plc','dag','a',[[2085,1640]]],['plc','ip3','a',[[2245,1640]]],['pip','dag','a'],['pip','ip3','a'],['dag','pkc','a'],['ip3','ca','a'],
['pkc','gden','a',[[2335,1745],[2335,1100]]],['ca','pla2','a'],['glico','pla2','a'],['pla2','fcol','b'],['pla2','liso','a',[[2610,2040]]],['pla2','aa','a'],['fcol','liso','a'],['fcol','aa','a'],
['aas','cox','b'],['cox','aa','s'],['cox','pgg','a',[[3110,2150]]],['aa','pgg','a'],['txs','pgg','s'],['txs','txa2','a'],['pgg','txa2','a'],
['txa2','agr','a'],['txa2','contr','a'],['txa2','vcon','a'],['contr','mud','a'],['mud','pseu','a'],['pseu','ativ','a',[[3150,2620],[3176,2480],[3176,1100],[3140,990]]],
['glanz','rfib','s'],['drog','rfib','s'],['rfib','agr','a'],['queb','agr','s'],['agr','tamp','a'],
['febre','inal','a'],['inal','virus','a'],['virus','macr','a'],['macr','inic','a'],['inic','vasc','a'],['vasc','lesend','a'],['dvw','c12','s'],['dvw','lesend','a',[[1325,960],[1280,1080]]],
['c12','fvw','a'],['finib','f3','s'],['lestec','f3','a'],['lestec','lesend','a'],['lesend','perm','a'],
['perm','liq','a',[[400,1330]]],['perm','mel','a',[[420,1335]]],['perm','pet','a'],['perm','conj','a'],['perm','exan','a'],['perm','hemat','a'],['perm','hmuc','a'],['perm','hlab','a',[[1200,1350]]],
['abort','remo','a'],['remo','desen','s'],['grav','desen','a'],['desen','isq','a'],['isq','fcte','a'],['fcte','prost','s'],['fcte','txp','a'],['fcte','sero','a'],
['prost','lesm','a'],['txp','lesm','a'],['sero','lesm','a',[[5500,720]]],['txp','vasos','a'],['sero','vasos','a'],
['lesm','atag','a',[[4800,810]]],['lesm','hdis','a'],['lesm','inf','a'],['lesm','dep','a'],['lesm','obs','a'],['lesm','vasos','a'],
['atag','pplas','s'],['atag','luz','b'],['luz','rupt','a'],['rupt','hemol','a'],['hemol','anmic','a'],['hdis','diss','a'],['diss','hemt','a'],['hemt','glis','a'],['inf','enz','a'],['vasos','press','a']
];
for(var i=0;i<L.length;i++)edge(L[i][0],L[i][1],L[i][2],L[i][3]);
})();
</script>
</body></html>
